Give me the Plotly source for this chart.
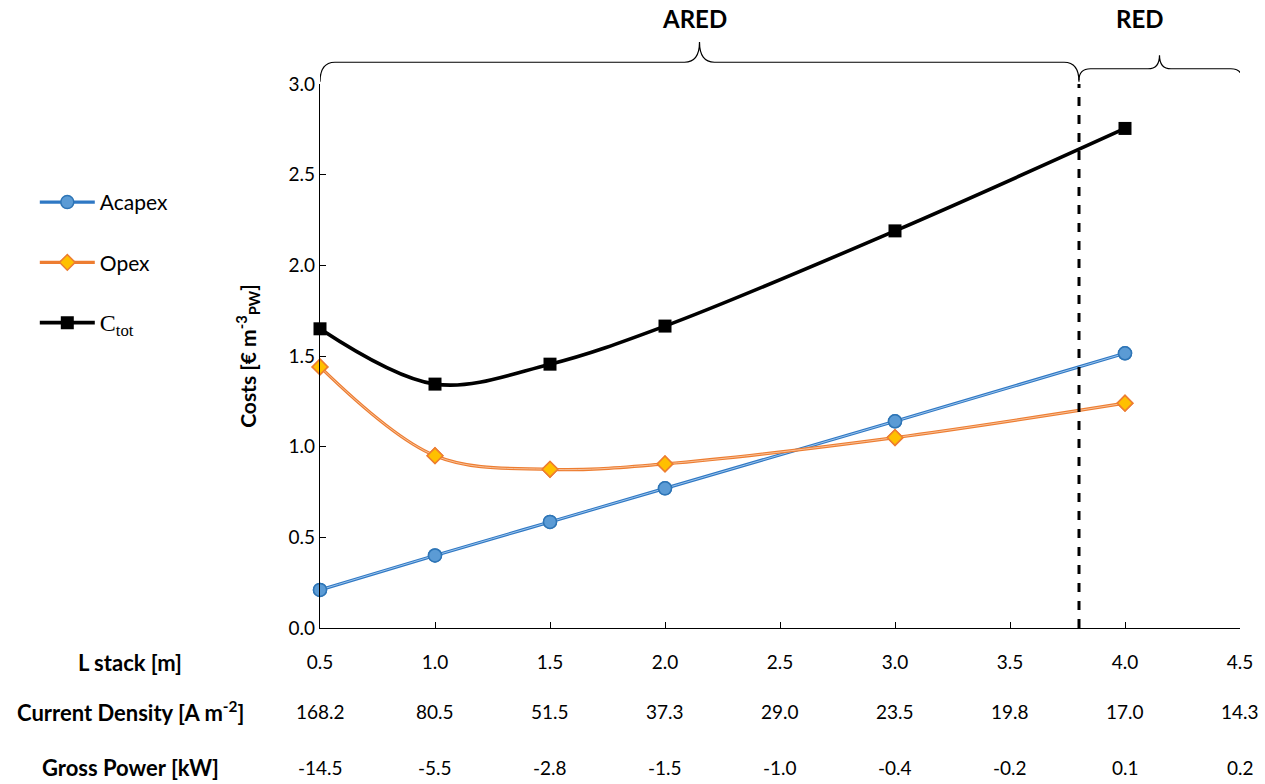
import plotly.graph_objects as go

# ---- data -------------------------------------------------------------
stack_length = [0.5, 1.0, 1.5, 2.0, 3.0, 4.0]          # L stack [m]
acapex = [0.21, 0.40, 0.585, 0.77, 1.14, 1.515]
opex = [1.44, 0.95, 0.875, 0.905, 1.05, 1.24]
c_tot = [1.65, 1.345, 1.455, 1.665, 2.19, 2.755]

# secondary scale shown under the x axis
axis_ticks = [0.5, 1.0, 1.5, 2.0, 2.5, 3.0, 3.5, 4.0, 4.5]
current_density = [168.2, 80.5, 51.5, 37.3, 29.0, 23.5, 19.8, 17.0, 14.3]
gross_power = [-14.5, -5.5, -2.8, -1.5, -1.0, -0.4, -0.2, 0.1, 0.2]

red_boundary = 3.8   # L stack where the RED regime begins
x_min, x_max = 0.5, 4.5

FONT = "Lato"
TICK_SIZE = 19
LABEL_SIZE = 22
fig = go.Figure()

acapex_marker = dict(symbol="circle", size=13, color="#5B9BD5",
                     line=dict(color="#2E75B6", width=1.5))
opex_marker = dict(symbol="diamond", size=12, color="#FFC000",
                   line=dict(color="#ED7D31", width=1.5))

# Acapex: blue double line with round markers
fig.add_trace(go.Scatter(
    x=stack_length, y=acapex, name="Acapex", mode="lines+markers",
    line=dict(color="#2F78C4", width=3.2, shape="spline", smoothing=1),
    marker=acapex_marker, legendgroup="a", cliponaxis=False))
fig.add_trace(go.Scatter(
    x=stack_length, y=acapex, mode="lines", showlegend=False, hoverinfo="skip",
    line=dict(color="#A9CDEF", width=0.9, shape="spline", smoothing=1),
    cliponaxis=False))
fig.add_trace(go.Scatter(
    x=stack_length, y=acapex, mode="markers", showlegend=False, hoverinfo="skip",
    marker=acapex_marker, cliponaxis=False))

# Opex: orange double line with diamond markers
fig.add_trace(go.Scatter(
    x=stack_length, y=opex, name="Opex", mode="lines+markers",
    line=dict(color="#ED7D31", width=3.2, shape="spline", smoothing=1),
    marker=opex_marker, legendgroup="b", cliponaxis=False))
fig.add_trace(go.Scatter(
    x=stack_length, y=opex, mode="lines", showlegend=False, hoverinfo="skip",
    line=dict(color="#F8C8A6", width=0.9, shape="spline", smoothing=1),
    cliponaxis=False))
fig.add_trace(go.Scatter(
    x=stack_length, y=opex, mode="markers", showlegend=False, hoverinfo="skip",
    marker=opex_marker, cliponaxis=False))

# total cost: thick black line with square markers
fig.add_trace(go.Scatter(
    x=stack_length, y=c_tot,
    name='<span style="font-family:Liberation Serif;font-size:24px">C<sub>tot</sub></span>',
    mode="lines+markers",
    line=dict(color="#000000", width=3.6, shape="spline", smoothing=1),
    marker=dict(symbol="square", size=13, color="#000000"),
    legendgroup="c", cliponaxis=False))

# ---- regime boundary and braces ------------------------------------------
fig.add_shape(type="line", xref="x", yref="y", x0=red_boundary, x1=red_boundary,
              y0=0, y1=3.0, line=dict(color="#000000", width=3, dash="dash"))


def brace(x0, x1, xt, y_base, y_mid, y_tip, r):
    return (f"M {x0},{y_base} Q {x0},{y_mid} {x0 + r},{y_mid} "
            f"L {xt - r},{y_mid} Q {xt},{y_mid} {xt},{y_tip} "
            f"Q {xt},{y_mid} {xt + r},{y_mid} "
            f"L {x1 - r},{y_mid} Q {x1},{y_mid} {x1},{y_base}")


ared_tip = (x_min + red_boundary) / 2
red_tip = (red_boundary + x_max) / 2
fig.add_shape(type="path", xref="x", yref="paper",
              path=brace(x_min, red_boundary, ared_tip, 1.004, 1.040, 1.077, 0.065),
              line=dict(color="#000000", width=1.2))
fig.add_shape(type="path", xref="x", yref="paper",
              path=brace(red_boundary, x_max + 0.01, red_tip, 1.007, 1.028, 1.053, 0.05),
              line=dict(color="#000000", width=1.2))

fig.add_annotation(x=ared_tip - 0.02, y=1.121, xref="x", yref="paper", text="<b>ARED</b>",
                   showarrow=False, yanchor="middle",
                   font=dict(size=24, color="#000000", family=FONT))
fig.add_annotation(x=red_tip - 0.085, y=1.121, xref="x", yref="paper", text="<b>RED</b>",
                   showarrow=False, yanchor="middle",
                   font=dict(size=24, color="#000000", family=FONT))

# ---- secondary scale rows ----------------------------------------------
row_label_x = -0.2065
rows = [
    ("<b>L stack [m]</b>", -0.064, None),
    ("<b>Current Density [A m<sup>-2</sup>]</b>", -0.154, current_density),
    ("<b>Gross Power [kW]</b>", -0.257, gross_power),
]
for label, yy, values in rows:
    fig.add_annotation(x=row_label_x, y=yy, xref="paper", yref="paper", text=label,
                       showarrow=False, xanchor="center", yanchor="middle",
                       font=dict(size=LABEL_SIZE, color="#000000", family=FONT))
    if values is None:
        continue
    for xv, v in zip(axis_ticks, values):
        fig.add_annotation(x=xv, y=yy, xref="x", yref="paper", text=f"{v:.1f}",
                           showarrow=False, xanchor="center", yanchor="middle",
                           font=dict(size=TICK_SIZE, color="#000000", family=FONT))

# ---- layout ---------------------------------------------------------------
fig.update_layout(
    width=1265, height=784,
    margin=dict(l=320, r=25, t=84, b=156),
    paper_bgcolor="white", plot_bgcolor="white",
    font=dict(family=FONT, size=TICK_SIZE, color="#000000"),
    showlegend=True,
    legend=dict(x=-0.31, y=0.82, xanchor="left", yanchor="top",
                font=dict(size=21, family=FONT, color="#000000"),
                tracegroupgap=30, traceorder="grouped",
                bgcolor="rgba(0,0,0,0)", itemwidth=55),
    xaxis=dict(range=[x_min, x_max], tickmode="array", tickvals=axis_ticks,
               ticktext=[f"{t:.1f}" for t in axis_ticks],
               showgrid=False, zeroline=False, showline=True,
               linecolor="#000000", linewidth=1.3,
               ticks="inside", ticklen=6, tickcolor="#000000", tickwidth=1.3,
               ticklabelstandoff=17,
               tickfont=dict(size=TICK_SIZE, family=FONT, color="#000000")),
    yaxis=dict(range=[0, 3.0], tickmode="linear", tick0=0, dtick=0.5,
               tickformat=".1f", showgrid=False, zeroline=False, showline=True,
               linecolor="#000000", linewidth=1.3,
               ticks="inside", ticklen=6, tickcolor="#000000", tickwidth=1.3,
               tickfont=dict(size=TICK_SIZE, family=FONT, color="#000000"),
               title=dict(text="<b>Costs [€ m<sup>-3</sup><sub>PW</sub>]</b>",
                          font=dict(size=21, family=FONT, color="#000000"),
                          standoff=26)),
)

fig.write_html("out.html")
